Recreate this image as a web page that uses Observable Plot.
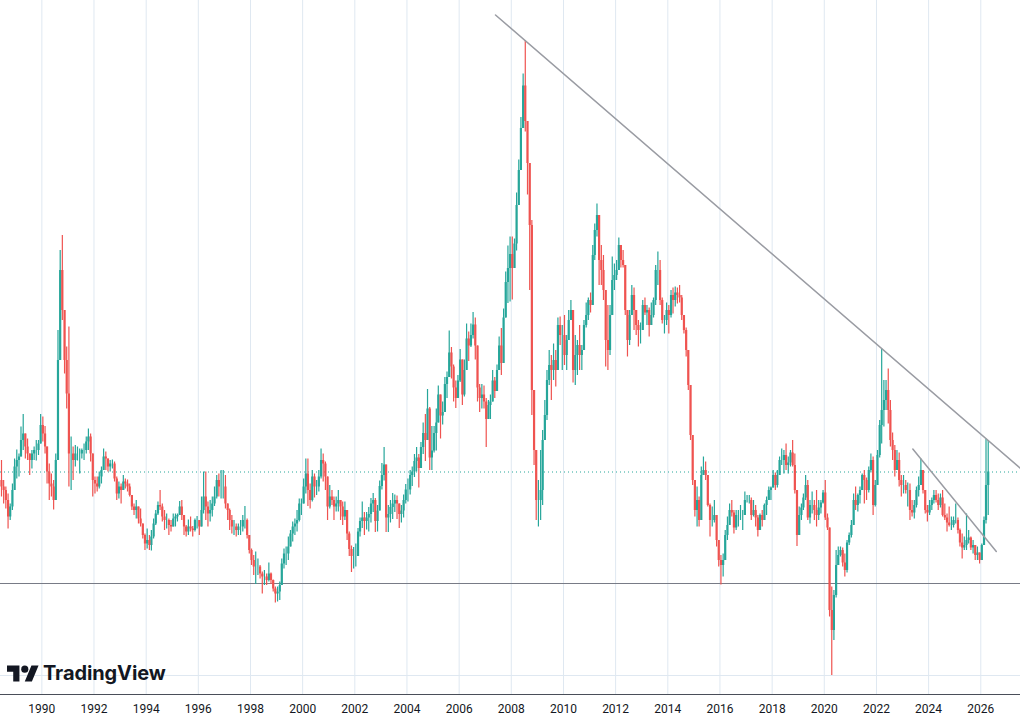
<!DOCTYPE html>
<html>
<head>
<meta charset="utf-8">
<script src="https://cdn.jsdelivr.net/npm/d3@7"></script>
<script src="https://cdn.jsdelivr.net/npm/@observablehq/plot@0.6"></script>
<style>
html, body { margin: 0; padding: 0; background: #ffffff; }
#wrap { position: relative; width: 1020px; height: 719px; overflow: hidden; background: #fff; }
#logoIcon { position: absolute; left: 7px; top: 662px; }
#logoText { position: absolute; left: 43px; top: 663px; font-family: Inter, "Noto Sans", sans-serif; font-weight: 700; font-size: 20px; line-height: 20px; color: #131722; letter-spacing: -0.1px; }
</style>
</head>
<body>
<div id="wrap">
  <div id="chart"></div>
  <svg id="logoIcon" width="32" height="25" viewBox="0 0 36 28" fill="#131722"><path d="M14 22H7V11H0V4h14v18zM28 22h-8l7.5-18h8L28 22z"/><circle cx="20" cy="8" r="4"/></svg>
  <div id="logoText">TradingView</div>
</div>
<script>
// Monthly candles, first month = June 1988 (values in chart price units)
const firstYear = 1988, firstMonth = 5;

const highs = [
  48, 44, 42.7, 41.3, 39.3, 43.3, 48.3,                                   // 1988 Jun-Dec
  50.1, 49.3, 54.7, 57.2, 52.7, 52.3, 49.3, 50, 50.7, 52, 52, 57.2,       // 1989
  56.7, 54.8, 50, 47.3, 45.3, 44, 49.3, 74, 90, 93, 78, 70.7,             // 1990
  74.7, 52.7, 50.7, 51, 50.7, 50.3, 50.3, 51.3, 52.7, 54.3, 53.3, 45.7,   // 1991
  44.7, 44.7, 45.7, 46.7, 50.3, 49.7, 48.3, 48, 48.1, 47.7, 44.7, 43.7,   // 1992
  43.3, 45, 44.3, 44.1, 43.3, 40.8, 39.3, 40, 38.7, 38.3, 34.3, 33.3,     // 1993
  34.3, 33, 34, 36.3, 38, 39.7, 42, 39.3, 38, 37.3, 36.3, 36,             // 1994
  37.3, 37.3, 37.3, 39.8, 40, 37, 35, 36.1, 36.7, 34.8, 36.3, 36.8,       // 1995
  36, 40.7, 45.7, 45.7, 39.7, 40, 40.7, 42.7, 45, 45.3, 46, 46,           // 1996
  45, 39.3, 38.3, 37, 36, 35.3, 35.3, 36, 37, 38.8, 36.3, 33,             // 1997
  30.3, 29, 29.7, 28.3, 27, 25.7, 26, 25.3, 27.5, 25.5, 24.1, 22.7,       // 1998
  22.7, 23.7, 28.3, 30.3, 30.7, 32.7, 34, 35.7, 36.3, 38, 40.3, 40.3,     // 1999
  44.3, 48.3, 48.3, 43.3, 46, 45.3, 44, 46, 50.3, 49.3, 47.7, 44,         // 2000
  43, 42, 40.7, 40.7, 42, 40, 39.7, 39.7, 38, 33.7, 30.9, 30.6,           // 2001
  31.3, 34.4, 36.5, 39.7, 37.6, 37.6, 38.6, 40.4, 41.4, 40.4, 39, 43.9,   // 2002
  47.4, 50.6, 47.1, 39, 40, 41.4, 41.1, 40.9, 39, 39, 41.1, 43.2,         // 2003
  44.3, 46, 46.7, 49.2, 50.6, 49.2, 51.6, 55.5, 57.2, 62.2, 58.6, 54.8,   // 2004
  54.8, 58.3, 62.9, 61.1, 59.7, 64.6, 65.7, 73.9, 70.6, 67.1, 63.9, 65,   // 2005
  70.2, 66.7, 68.1, 75.3, 73.7, 75.3, 77.6, 76.5, 68.1, 63.2, 63.2, 62.9, // 2006
  60.4, 60, 61.1, 66, 64.6, 67.1, 72.7, 74.4, 78.3, 85.7, 90.9, 92.7,     // 2007
  92.7, 92.3, 101.5, 108.1, 116.6, 125.3, 132, 115.8, 107, 96, 62, 50,    // 2008
  44, 50, 54, 60, 66, 70, 69, 71.3, 70, 76.5, 76.7, 75,                   // 2009
  77, 73, 78, 80, 78, 73, 72, 75, 71, 76, 79.5, 80.5,                     // 2010
  81.5, 91, 95.3, 99.3, 97, 91, 89, 82, 79, 79, 88.7, 87.3,               // 2011
  88, 92.5, 91, 90, 87, 78, 78, 83, 82.5, 78, 76, 75.5,                   // 2012
  80, 80.5, 79, 78.5, 79.5, 80.5, 87, 89.7, 88, 80.5, 77, 79.5,           // 2013
  79, 82, 82.5, 82.7, 82.5, 83, 81, 77, 74.5, 70, 63, 53,                 // 2014
  43.3, 42.7, 40.7, 46.7, 48.7, 47.7, 45, 39.3, 38.7, 40, 37, 32,         // 2015
  29, 29.3, 34, 36.7, 39.3, 40, 38, 38, 38, 39, 38, 41.7,                 // 2016
  41, 41, 40.5, 40, 39, 37, 37.3, 38, 39.3, 40.7, 42.7, 42.7,             // 2017
  46, 45.5, 46, 48.7, 50.3, 50, 51.3, 48.7, 50, 52, 49.3, 42,             // 2018
  38.7, 39.3, 41.3, 45, 44, 40, 41.7, 40, 42, 40, 40, 42,                 // 2019
  44, 37.3, 34.5, 22.7, 22, 30, 30.7, 30.7, 30.5, 29.3, 32, 33.5,         // 2020
  36, 41.3, 42.7, 41.3, 42.7, 45.3, 46, 44.5, 46.7, 49.3, 48.7, 44,       // 2021
  50, 56, 70.3, 64, 64, 66.3, 60, 53.5, 51, 50, 49.5, 45,                 // 2022
  45, 44, 43.5, 43.3, 40, 40, 42.7, 44.7, 48.3, 46, 42, 39,               // 2023
  40, 40.5, 42, 42, 41.3, 41.3, 42, 39.3, 37.3, 38.7, 36.7, 36.7,         // 2024
  39.3, 36.5, 34.3, 33.3, 32.7, 37.3, 34, 32.7, 32, 31, 30.7, 29.5,       // 2025
  31.3, 36.7, 52.3, 52                                                    // 2026 Jan-Apr
];

const lows = [
  40.7, 39.3, 38.3, 34.3, 36, 38, 42.7,                                   // 1988
  44.3, 44.7, 49.3, 50, 48.3, 48, 45, 46.3, 48, 47.9, 49, 51.7,           // 1989
  51.7, 49.3, 43.3, 40, 40.7, 38.1, 43.3, 48, 74, 76, 65.3, 58.3,         // 1990
  42.7, 42, 44, 46.7, 47.9, 45.3, 48.3, 48, 49.3, 50, 47.7, 40.7,         // 1991
  41.3, 41.7, 42.3, 43.3, 46.3, 46, 45.7, 45.7, 46.3, 43.7, 40, 40.3,     // 1992
  39.3, 42, 42.3, 41.7, 40.7, 38, 37, 36.3, 35.3, 34.7, 32.3, 30,         // 1993
  30.3, 30, 29.9, 32.3, 35, 37, 38, 35.7, 34, 34.3, 33, 33.7,             // 1994
  35, 34.7, 35.7, 37, 36, 33, 32.7, 33, 33.7, 32.7, 33.7, 34.3,           // 1995
  33, 34.7, 37.3, 36, 34.7, 35.7, 36.7, 38.8, 40.3, 40.7, 40.3, 40.3,     // 1996
  38.3, 36, 34, 33.3, 33, 32.7, 33, 33, 33.7, 34.3, 32.3, 29.3,           // 1997
  27, 25, 23.2, 25, 24.3, 21.3, 23, 23, 23.7, 23.2, 21.7, 19.5,           // 1998
  19.7, 20, 23.7, 26.3, 27, 28, 31, 31.7, 33, 33.7, 35.7, 37,             // 1999
  39.7, 41.3, 38.8, 38.3, 39.7, 40.5, 41, 41.7, 44.3, 43.7, 42, 36,       // 2000
  38.3, 39, 36, 37.7, 37.7, 36, 35, 36, 32, 28.8, 25.6, 26.3,             // 2001
  26.7, 28.8, 32.7, 34.4, 33, 34.1, 33.7, 35.5, 37.6, 33.6, 33.7, 38.3,   // 2002
  42.1, 43.9, 33.6, 33.6, 35.5, 36.2, 37.6, 36.2, 34.4, 35.5, 36.5, 39.3, // 2003
  39.7, 41.1, 42.8, 44.6, 45.7, 42.5, 46.7, 49.2, 47.8, 54.1, 46, 46,     // 2004
  49.5, 49.9, 56.2, 52.3, 55.1, 59.3, 60.4, 66.7, 64.3, 59.7, 58.4, 60.4, // 2005
  63.6, 59, 60.7, 68.5, 67.8, 70.6, 72.3, 68.1, 59.7, 57.6, 58.3, 58.3,   // 2006
  50.6, 56.2, 56.2, 59.7, 60.4, 61.8, 66, 65, 72.7, 77.6, 79.4, 79.7,     // 2007
  80.1, 87.4, 89.9, 99, 108.8, 115.5, 113.7, 101.1, 82, 57, 47, 36,       // 2008
  34.7, 36, 39, 52, 56, 63, 60, 64, 62.7, 67, 71, 66,                     // 2009
  67, 66, 72, 76, 63.5, 63, 65, 66, 66, 71, 74.5, 76,                     // 2010
  77.5, 79, 88, 92.7, 83, 83, 80, 66.7, 66, 69, 77, 82,                   // 2011
  84, 86, 86.5, 86.5, 77, 68.7, 71, 77, 74, 73, 70.7, 71.3,               // 2012
  74, 77, 75, 72.7, 75, 76.5, 79, 83, 79, 75.3, 73.3, 75,                 // 2013
  73.3, 76.5, 77.3, 78.7, 79.3, 79.5, 76, 73.3, 68.7, 62, 52, 43,         // 2014
  36.7, 34.7, 34.7, 38, 45.3, 44, 38.7, 32.7, 34.7, 35.5, 30.7, 26.7,     // 2015
  23.1, 24.7, 28, 32, 35, 36.7, 33.3, 34, 34.7, 36, 34, 37,               // 2016
  39.5, 39.3, 36, 36.7, 34.7, 32.7, 34, 34.7, 36, 37, 40, 40,             // 2017
  42.7, 42, 42.5, 45, 47, 45.3, 46, 45.3, 46.7, 46.7, 41.3, 30.8,         // 2018
  33, 36, 38, 40, 36, 35.3, 37.3, 36, 34.7, 36, 37.3, 39.3,               // 2019
  36, 34, 16.7, 5, 12, 20.5, 28, 28.7, 26.7, 24.7, 25.5, 31,              // 2020
  32.5, 35, 38, 37.7, 39.3, 42, 39.3, 40, 41.5, 45.5, 37, 38.7,           // 2021
  43, 48.5, 51.3, 54.7, 58, 55.3, 50.7, 48, 44.7, 46, 42.7, 40.7,         // 2022
  41.3, 41.3, 38.7, 36, 36.7, 36.3, 38.5, 40.7, 43, 41.3, 37.3, 35.7,     // 2023
  37, 38, 39.3, 39.5, 38, 38.5, 36.7, 36, 33.7, 34.7, 34, 34.5,           // 2024
  35.3, 33.3, 30.7, 28.3, 30, 30, 31.3, 30, 29.3, 28, 28, 27.3,           // 2025
  28, 31, 35.3, 37                                                        // 2026
];

const closes = [
  42.7, 42, 40, 36.7, 38.7, 42, 46.7,                                     // 1988
  48, 48.7, 52, 53.3, 50.7, 49.3, 48, 49.3, 50, 50, 51.3, 55,             // 1989
  53.3, 50.7, 45.7, 43.3, 42.7, 40, 48, 68, 86, 78, 68, 61.3,             // 1990
  49.3, 49.3, 48, 49.3, 49.3, 49.3, 50, 50, 51.7, 52.7, 49.3, 44,         // 1991
  43.3, 42.7, 44.7, 46, 48.7, 48.3, 46.7, 47.3, 47.3, 44.3, 41.3, 42.7,   // 1992
  42, 43.7, 43.3, 42.7, 41, 38.7, 38, 38.7, 36.3, 35.3, 33, 31.3,         // 1993
  32, 31, 32.7, 35.3, 37.3, 39, 38.7, 36.7, 36, 36, 35, 34.7,             // 1994
  36.3, 36.7, 37, 38.7, 37, 34.7, 33.7, 34.7, 34.3, 34, 36, 36,           // 1995
  34.7, 38, 40.7, 38.7, 37.3, 38, 39.3, 40.7, 44, 42.7, 42.7, 42.7,       // 1996
  39.3, 38, 36, 34.7, 34.7, 34, 34.7, 34.7, 36, 36, 33, 30,               // 1997
  28, 26.7, 26.7, 26.7, 25.3, 24.7, 24.7, 24, 25.3, 24, 22.3, 21.3,       // 1998
  21.7, 23, 27.3, 29.3, 29.3, 30.7, 33.3, 34.7, 35.3, 36, 39.3, 39.3,     // 1999
  42.7, 45.3, 42, 40, 44.7, 42.7, 42.7, 44.7, 48, 47.3, 44.7, 38.7,       // 2000
  40.7, 40, 38.7, 39.3, 40, 38.7, 36.7, 38, 33.3, 30.2, 28.8, 28.8,       // 2001
  28.8, 33.7, 35.8, 36.5, 35.8, 36.5, 37.2, 39.3, 40, 35.8, 37.9, 42.8,   // 2002
  45, 47.1, 36.5, 37.2, 38.6, 39.3, 40, 39.3, 37.2, 37.9, 40, 42.1,       // 2003
  42.1, 45, 45.7, 47.8, 48.5, 46.4, 50.6, 53.4, 52, 58.3, 48.5, 49.9,     // 2004
  53.4, 55.5, 61.1, 56.9, 57.6, 63.2, 64.6, 69.5, 66.7, 62.5, 60.4, 63.9, // 2005
  68.1, 61.1, 66, 72.3, 70.9, 73, 75.1, 70.9, 62.5, 60.4, 61.1, 59.7,     // 2006
  56.2, 59, 59.7, 63.9, 61.8, 66, 70.9, 67.4, 76.5, 83.6, 86.4, 89.2,     // 2007
  86.4, 91.3, 99, 106, 114.4, 122.9, 115.8, 107.4, 95, 62, 50, 40,        // 2008
  40, 42, 52, 57, 64, 67, 66, 68, 66, 75, 73, 73,                         // 2009
  69, 72, 76, 78, 66, 69, 71, 69, 70, 75, 77, 80,                         // 2010
  79, 89, 94, 97, 88, 86, 82, 72, 70, 77, 84, 85,                         // 2011
  86, 91, 88, 87, 78, 72, 77, 81, 78, 75, 74, 74,                         // 2012
  79, 77.5, 78, 75, 77, 80, 86, 86, 80, 76, 76, 78,                       // 2013
  77, 81, 80, 81.5, 81, 80.5, 77, 74, 70, 63, 53, 44,                     // 2014
  38, 40, 36, 45, 46, 45, 39, 36, 36, 37, 32, 28,                         // 2015
  27, 28, 33, 35, 38, 37.5, 34.5, 37, 37, 37, 37, 40,                     // 2016
  40, 40, 37, 38, 36.5, 34, 37, 36, 39, 40, 42, 42.5,                     // 2017
  45, 43, 45, 48, 48, 49, 47, 47.5, 49.5, 47, 42, 33,                     // 2018
  37, 38.5, 40.5, 43, 36.5, 39, 39, 38, 37, 38.5, 39.5, 41.5,             // 2019
  36.5, 34.5, 18, 14, 21, 27, 29, 30, 27.5, 26, 31.5, 33,                 // 2020
  35, 40, 39, 41, 42, 45, 44, 42, 46, 48, 39, 43,                         // 2021
  49, 55, 58, 60, 62, 58, 52, 50, 46, 48, 44, 43,                         // 2022
  43, 42, 42, 38, 37.5, 39, 42, 43, 46, 42, 38, 37.5,                     // 2023
  39, 40, 41, 40, 39, 40.5, 37, 36.5, 35.5, 35, 35, 36,                   // 2024
  36, 34, 31.5, 30.5, 31, 32, 32.5, 30.5, 31, 29, 29.5, 28,               // 2025
  31, 36, 43, 45.7                                                        // 2026
];

const firstOpen = 44;
const axisYears = [1990, 1992, 1994, 1996, 1998, 2000, 2002, 2004, 2006, 2008, 2010, 2012, 2014, 2016, 2018, 2020, 2022, 2024, 2026];
const supportLevel = 23.4;    // solid horizontal line
const lastPrice = 45.7;       // dotted last-price line
const gridLevels = [5];       // faint horizontal grid line
const trendMain = [{date: "2007-05-25", price: 137.1}, {date: "2027-07-11", price: 46.4}];
const trendShort = [{date: "2023-05-25", price: 50.3}, {date: "2026-08-06", price: 29.8}];

const green = "#26a69a", red = "#ef5350";

const data = closes.map((c, i) => {
  const open = i === 0 ? firstOpen : closes[i - 1];
  return {
    date: new Date(Date.UTC(firstYear, firstMonth + i, 15)),
    open, close: c,
    high: Math.max(highs[i], open, c),
    low: Math.min(lows[i], open, c)
  };
});
const up = data.filter(d => d.close >= d.open);
const down = data.filter(d => d.close < d.open);
const yearDate = y => new Date(Date.UTC(y, 0, 1));
const toDate = s => new Date(s + "T00:00:00Z");

const chart = Plot.plot({
  width: 1020,
  height: 719,
  marginTop: 0, marginRight: 0, marginBottom: 25, marginLeft: 0,
  style: {fontFamily: "Roboto, 'DejaVu Sans', sans-serif", fontSize: "12px", background: "#ffffff", color: "#131722"},
  x: {type: "utc", domain: [new Date(Date.UTC(1988, 5, 1)), new Date(Date.UTC(2027, 6, 11))]},
  y: {domain: [1.2, 140], axis: null},
  marks: [
    Plot.ruleX(axisYears, {x: yearDate, stroke: "#dfe8f1", strokeWidth: 1}),
    Plot.ruleY(gridLevels, {stroke: "#dfe8f1", strokeWidth: 1}),
    Plot.ruleY([lastPrice], {stroke: green, strokeWidth: 1, strokeDasharray: "1 3"}),
    Plot.ruleY([supportLevel], {stroke: "#787b86", strokeWidth: 1.2}),
    Plot.ruleX(up, {x: "date", y1: "low", y2: "high", stroke: green, strokeWidth: 1.2}),
    Plot.ruleX(down, {x: "date", y1: "low", y2: "high", stroke: red, strokeWidth: 1.2}),
    Plot.ruleX(up, {x: "date", y1: "open", y2: "close", stroke: green, strokeWidth: 2.2}),
    Plot.ruleX(down, {x: "date", y1: "open", y2: "close", stroke: red, strokeWidth: 2.2}),
    Plot.line(trendMain, {x: d => toDate(d.date), y: "price", stroke: "#9a9ca3", strokeWidth: 1.5}),
    Plot.line(trendShort, {x: d => toDate(d.date), y: "price", stroke: "#9a9ca3", strokeWidth: 1.5}),
    Plot.ruleY([1.2], {stroke: "#4a4e59", strokeWidth: 1}),
    Plot.axisX(axisYears.map(yearDate), {tickSize: 0, tickPadding: 10, tickFormat: d => String(d.getUTCFullYear()), fontSize: 12, fill: "#131722", label: null})
  ]
});
document.getElementById("chart").appendChild(chart);
</script>
</body>
</html>
